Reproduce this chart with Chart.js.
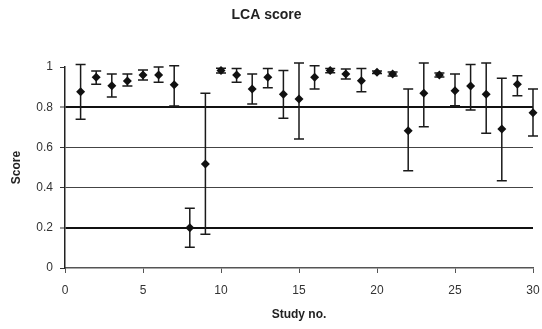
<!DOCTYPE html>
<html>
<head>
<meta charset="utf-8">
<script src="https://cdn.jsdelivr.net/npm/chart.js@4.4.0/dist/chart.umd.min.js"></script>
<style>
  html, body { margin: 0; padding: 0; background: #fff; }
  #wrap { width: 542px; height: 329px; }
</style>
</head>
<body>
<div id="wrap"><canvas id="chart_lcaScore"></canvas></div>
<script>
var studies = [1, 2, 3, 4, 5, 6, 7, 8, 9, 10, 11, 12, 13, 14, 15, 16, 17, 18, 19, 20, 21, 22, 23, 24, 25, 26, 27, 28, 29, 30];
var score = [0.877, 0.949, 0.907, 0.930, 0.960, 0.960, 0.912, 0.200, 0.517, 0.982, 0.960, 0.890, 0.949, 0.864, 0.841,
             0.949, 0.982, 0.965, 0.932, 0.974, 0.965, 0.683, 0.869, 0.960, 0.882, 0.905, 0.864, 0.692, 0.914, 0.773];
var lower = [0.740, 0.914, 0.851, 0.905, 0.935, 0.924, 0.806, 0.103, 0.168, 0.970, 0.924, 0.816, 0.897, 0.745, 0.642,
             0.890, 0.972, 0.940, 0.877, 0.968, 0.955, 0.484, 0.703, 0.950, 0.807, 0.786, 0.670, 0.434, 0.857, 0.657];
var upper = [1.013, 0.980, 0.965, 0.965, 0.985, 1.000, 1.006, 0.297, 0.869, 0.994, 0.993, 0.965, 0.993, 0.982, 1.020,
             1.006, 0.992, 0.990, 0.993, 0.980, 0.975, 0.890, 1.020, 0.970, 0.965, 1.013, 1.020, 0.944, 0.957, 0.890];
var yTickLabels = ['0', '0.2', '0.4', '0.6', '0.8', '1'];

var fontFamily = '"Liberation Sans", Arial, sans-serif';

var points = studies.map(function (s, i) { return { x: s, y: score[i] }; });

var errorBars = {
    id: 'errorBars',
    beforeDatasetsDraw: function (chart) {
        var ctx = chart.ctx;
        var xs = chart.scales.x, ys = chart.scales.y;
        ctx.save();
        ctx.strokeStyle = '#1a1a1a';
        ctx.lineWidth = 1.5;
        for (var i = 0; i < studies.length; i++) {
            var px = xs.getPixelForValue(studies[i]);
            var top = ys.getPixelForValue(upper[i]);
            var bot = ys.getPixelForValue(lower[i]);
            ctx.beginPath();
            ctx.moveTo(px, top); ctx.lineTo(px, bot);
            ctx.moveTo(px - 5, top); ctx.lineTo(px + 5, top);
            ctx.moveTo(px - 5, bot); ctx.lineTo(px + 5, bot);
            ctx.stroke();
        }
        ctx.restore();
    }
};

var chart_lcaScore = new Chart(document.getElementById('chart_lcaScore'), {
    type: 'scatter',
    data: {
        datasets: [{
            label: 'LCA score',
            data: points,
            pointStyle: 'rectRot',
            pointRadius: 4.5,
            pointHoverRadius: 4.5,
            backgroundColor: '#111',
            borderColor: '#111',
            borderWidth: 0,
            clip: false
        }]
    },
    options: {
        animation: false,
        responsive: true,
        maintainAspectRatio: false,
        layout: { padding: { left: 0, right: 9, top: 0, bottom: 0 } },
        plugins: {
            legend: { display: false },
            tooltip: { enabled: false },
            title: {
                display: true,
                text: 'LCA score',
                color: '#222',
                font: { family: fontFamily, size: 14, weight: 'bold' },
                padding: { top: 6.6, bottom: 43.6 }
            }
        },
        scales: {
            x: {
                type: 'linear',
                min: 0,
                max: 30,
                afterFit: function (scale) {
                    scale.height = 61;
                    scale.paddingLeft = 0;
                    scale.paddingRight = 0;
                },
                title: {
                    display: true,
                    text: 'Study no.',
                    color: '#222',
                    font: { family: fontFamily, size: 12, weight: 'bold' },
                    padding: { top: 0, bottom: 7 }
                },
                border: { display: true, color: '#555', width: 1.5 },
                grid: { drawOnChartArea: false, drawTicks: true, tickLength: 5, tickColor: '#555', tickWidth: 1 },
                ticks: {
                    stepSize: 5,
                    padding: 10,
                    color: '#333',
                    font: { family: fontFamily, size: 12 }
                }
            },
            y: {
                type: 'linear',
                min: 0,
                max: 1,
                afterFit: function (scale) { scale.width = 65; },
                title: {
                    display: true,
                    text: 'Score',
                    color: '#222',
                    font: { family: fontFamily, size: 12, weight: 'bold' },
                    padding: { top: 9.5, bottom: 0 }
                },
                border: { display: true, color: '#222', width: 1.5 },
                grid: {
                    drawTicks: true,
                    tickLength: 5,
                    tickColor: '#333',
                    tickWidth: 1,
                    color: function (c) {
                        var v = Math.round(c.tick.value * 10) / 10;
                        if (v === 1 || v === 0) return 'rgba(0,0,0,0)';
                        return (v === 0.2 || v === 0.8) ? '#111' : '#444';
                    },
                    lineWidth: function (c) {
                        var v = Math.round(c.tick.value * 10) / 10;
                        return (v === 0.2 || v === 0.8) ? 2 : 1;
                    }
                },
                ticks: {
                    stepSize: 0.2,
                    padding: 7,
                    color: '#333',
                    font: { family: fontFamily, size: 12 },
                    callback: function (value, index) {
                        return yTickLabels[index];
                    }
                }
            }
        }
    },
    plugins: [errorBars]
});
</script>
</body>
</html>
